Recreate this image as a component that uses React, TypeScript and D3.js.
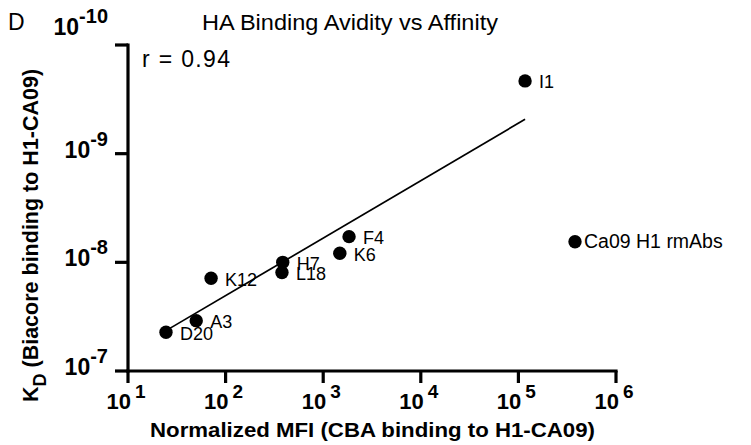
import React from "react";
import * as d3 from "d3";

const antibodies = ["D20", "A3", "K12", "H7", "L18", "F4", "K6", "I1"];
const mfiValues = [24.5, 50, 71, 385, 378, 1840, 1480, 117000];
const kdValues = [4.4e-8, 3.44e-8, 1.4e-8, 1.0e-8, 1.24e-8, 5.8e-9, 8.26e-9, 2.14e-10];

const fitMfi = [24.5, 117000];
const fitKd = [4.25e-8, 4.83e-10];

const xTickValues = [1e1, 1e2, 1e3, 1e4, 1e5, 1e6];
const xTickExponents = ["1", "2", "3", "4", "5", "6"];
const yTickValues = [1e-10, 1e-9, 1e-8, 1e-7];
const yTickExponents = ["-10", "-9", "-8", "-7"];

const legendLabel = "Ca09 H1 rmAbs";
const titleText = "HA Binding Avidity vs Affinity";
const panelLabel = "D";
const corrText = "r = 0.94";
const xTitle = "Normalized MFI (CBA binding to H1-CA09)";
const yTitleRest = " (Biacore binding to H1-CA09)";

const FONT = "'Liberation Sans', Arial, Helvetica, sans-serif";

export default function App() {
  const W = 751;
  const H = 445;
  const x = d3.scaleLog().domain([1e1, 1e6]).range([128, 616]);
  const y = d3.scaleLog().domain([1e-7, 1e-10]).range([371, 45]);
  const line = d3
    .line<number>()
    .x((_, i) => x(fitMfi[i]))
    .y((_, i) => y(fitKd[i]));
  const tickLen = 12;
  const axisW = 3.2;
  const r = 6.7;

  return (
    <svg
      width={W}
      height={H}
      style={{ position: "absolute", left: 0, top: 0, background: "#fff" }}
      fontFamily={FONT}
    >
      <rect width={W} height={H} fill="#fff" />
      <text x={8} y={30} fontSize={23}>
        {panelLabel}
      </text>
      <text x={350} y={29.5} fontSize={22} textAnchor="middle" textLength={296} lengthAdjust="spacingAndGlyphs">
        {titleText}
      </text>
      <text x={142} y={67} fontSize={23} textLength={88} lengthAdjust="spacing">
        {corrText}
      </text>

      <line
        x1={x(1e1)}
        x2={x(1e1)}
        y1={y(1e-10) - axisW / 2}
        y2={y(1e-7) + axisW / 2}
        stroke="#000"
        strokeWidth={axisW}
      />
      <line
        x1={x(1e1) - axisW / 2}
        x2={x(1e6) + axisW / 2}
        y1={y(1e-7)}
        y2={y(1e-7)}
        stroke="#000"
        strokeWidth={axisW}
      />
      {xTickValues.map((v, i) => (
        <g key={"xt" + i}>
          <line
            x1={x(v)}
            x2={x(v)}
            y1={y(1e-7)}
            y2={y(1e-7) + tickLen}
            stroke="#000"
            strokeWidth={axisW}
          />
          <text x={x(v) - 2} y={409} fontSize={22} fontWeight="bold" textAnchor="middle">
            <tspan>10</tspan>
            <tspan dx={4} dy={-11} fontSize={19}>
              {xTickExponents[i]}
            </tspan>
          </text>
        </g>
      ))}
      {yTickValues.map((v, i) => (
        <g key={"yt" + i}>
          <line
            x1={x(1e1) - tickLen - 1}
            x2={x(1e1)}
            y1={y(v)}
            y2={y(v)}
            stroke="#000"
            strokeWidth={axisW}
          />
          <text
            x={108}
            y={y(v) + (i === 0 ? -10 : 4)}
            fontSize={23}
            fontWeight="bold"
            textAnchor="end"
          >
            <tspan>10</tspan>
            <tspan dy={-12} fontSize={20}>
              {yTickExponents[i]}
            </tspan>
          </text>
        </g>
      ))}

      <path d={line(fitMfi) || ""} fill="none" stroke="#000" strokeWidth={1.7} />

      {antibodies.map((name, i) => (
        <g key={name}>
          <circle cx={x(mfiValues[i])} cy={y(kdValues[i])} r={r} fill="#000" />
          <text x={x(mfiValues[i]) + 14} y={y(kdValues[i]) + 7.5} fontSize={18}>
            {name}
          </text>
        </g>
      ))}

      <circle cx={575} cy={241.7} r={r} fill="#000" />
      <text x={584} y={248.3} fontSize={19.5}>
        {legendLabel}
      </text>

      <text
        x={372.5}
        y={437}
        fontSize={20}
        fontWeight="bold"
        textAnchor="middle"
        textLength={445}
        lengthAdjust="spacingAndGlyphs"
      >
        {xTitle}
      </text>
      <text transform="translate(38,402) rotate(-90)" fontSize={21.5} fontWeight="bold">
        <tspan>K</tspan>
        <tspan dy={8} fontSize={18}>D</tspan>
        <tspan dy={-8}>{yTitleRest}</tspan>
      </text>
    </svg>
  );
}
